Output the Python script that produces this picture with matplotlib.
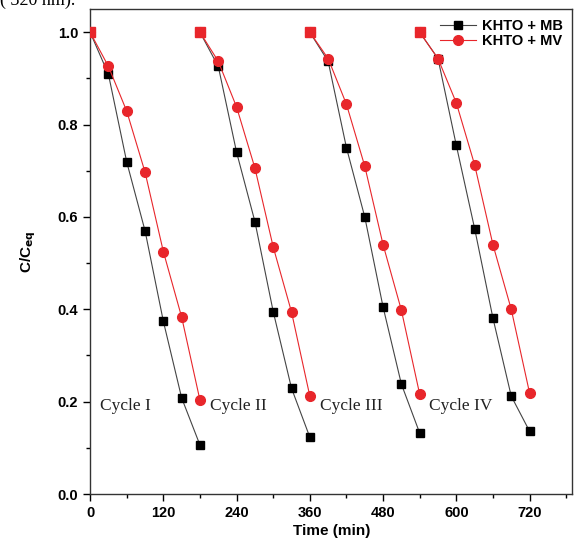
import matplotlib.pyplot as plt
import numpy as np
from matplotlib.ticker import MultipleLocator

# sampling times within one cycle (min) and cycle offsets
t_cycle = [0, 30, 60, 90, 120, 150, 180]
offsets = [0, 180, 360, 540]
cycle_names = ['Cycle I', 'Cycle II', 'Cycle III', 'Cycle IV']

mb = [
    [1.0, 0.909, 0.719, 0.570, 0.374, 0.208, 0.106],
    [1.0, 0.926, 0.740, 0.590, 0.395, 0.229, 0.123],
    [1.0, 0.937, 0.750, 0.600, 0.405, 0.238, 0.132],
    [1.0, 0.943, 0.755, 0.575, 0.381, 0.212, 0.136],
]
mv = [
    [1.0, 0.926, 0.829, 0.697, 0.525, 0.383, 0.203],
    [1.0, 0.937, 0.838, 0.706, 0.535, 0.394, 0.212],
    [1.0, 0.943, 0.844, 0.710, 0.540, 0.398, 0.216],
    [1.0, 0.943, 0.847, 0.713, 0.540, 0.400, 0.219],
]

red = '#e8262b'
plt.rcParams['font.family'] = ['Liberation Sans', 'DejaVu Sans']

fig = plt.figure(figsize=(5.74, 5.46), dpi=100)
ax = fig.add_axes([0.157, 0.0952, 0.840, 0.888])

for i in range(4):
    t = np.array(t_cycle) + offsets[i]
    ax.plot(t, mb[i], '-', color='#444444', lw=0.8, marker='s', ms=6,
            mfc='black', mec='black', label='KHTO + MB' if i == 0 else None, zorder=3)
    ax.plot(t, mv[i], '-', color=red, lw=0.8, marker='o', ms=7,
            mfc=red, mec=red, label='KHTO + MV' if i == 0 else None, zorder=4)
    # start points overlap and look like red squares
    ax.plot(t[0], mv[i][0], 's', ms=6.5, color=red, zorder=5)
    ax.text(t[0] + 16, 0.19, cycle_names[i], family='Liberation Serif', fontsize=12.5,
            color='#222222', ha='left', va='center')

ax.set_xlim(0, 790)
ax.set_ylim(0, 1.05)
ax.xaxis.set_major_locator(MultipleLocator(120))
ax.xaxis.set_minor_locator(MultipleLocator(60))
ax.yaxis.set_major_locator(MultipleLocator(0.2))
ax.yaxis.set_minor_locator(MultipleLocator(0.1))
ax.yaxis.set_major_formatter(plt.FuncFormatter(lambda v, p: f'{v:.1f}'))
ax.tick_params(which='both', direction='out', top=False, right=False, width=1)
ax.tick_params(which='major', length=5, labelsize=10.5)
ax.tick_params(which='minor', length=3)
for lab in ax.get_xticklabels() + ax.get_yticklabels():
    lab.set_fontweight('bold')
for s in ax.spines.values():
    s.set_linewidth(1.0)
    s.set_color('#333333')

ax.set_xlabel('Time (min)', fontsize=11, fontweight='bold', labelpad=3)
ax.set_ylabel(r'C/C$_{\mathbf{eq}}$', fontsize=11, fontweight='bold', labelpad=14)

leg = ax.legend(loc='upper right', frameon=False,
                prop={'weight': 'bold', 'size': 10.5}, handlelength=2.5,
                borderaxespad=0.25, labelspacing=0.1, handletextpad=0.4)

fig.text(0.0, 1.0, '( 320 nm).', family='Liberation Serif', fontsize=13,
         ha='left', va='center')

fig.savefig('out.png', dpi=100)
